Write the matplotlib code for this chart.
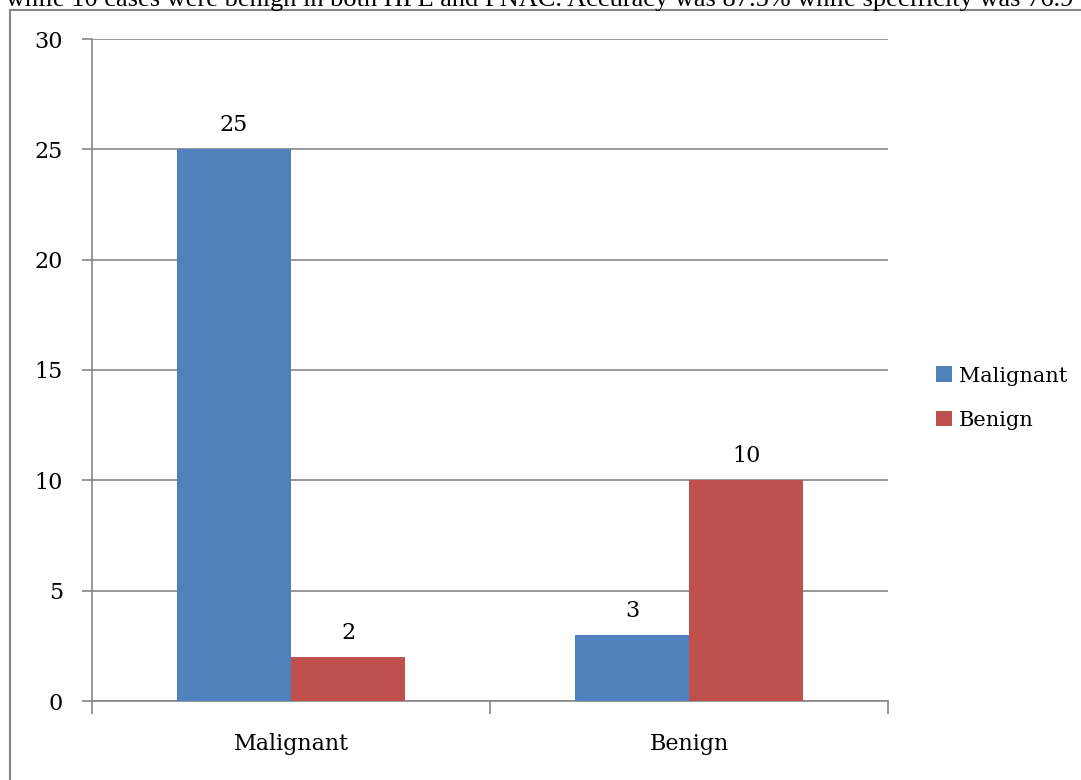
import numpy as np
import matplotlib.pyplot as plt
from matplotlib.lines import Line2D

# dados
categorias = ["Malignant", "Benign"]
serie_nomes = ["Malignant", "Benign"]
malignant = [25, 3]
benign = [2, 10]
yticks = [0, 5, 10, 15, 20, 25, 30]

AZUL = "#4F81BD"
VERMELHO = "#C0504D"
CINZA = "#868686"

plt.rcParams['font.family'] = ['DejaVu Serif']

W, H = 1081, 780
fig = plt.figure(figsize=(W/100, H/100), dpi=100)

# área do gráfico em pixels: x 92..888, y 39..701
ax = fig.add_axes([92/W, 1-701/H, (888-92)/W, (701-39)/H])

x = np.arange(len(categorias))
larg = 0.287
b1 = ax.bar(x - larg/2, malignant, larg, color=AZUL, label=serie_nomes[0], zorder=3)
b2 = ax.bar(x + larg/2, benign, larg, color=VERMELHO, label=serie_nomes[1], zorder=3)

for barras in (b1, b2):
  for r in barras:
    ax.text(r.get_x()+r.get_width()/2, r.get_height()+0.6, str(int(r.get_height())),
            ha='center', va='bottom', fontsize=16, color='black')

ax.set_xlim(-0.5, 1.5)
ax.set_ylim(0, 30)
ax.set_yticks(yticks)
ax.set_yticklabels([str(t) for t in yticks], fontsize=16)
ax.tick_params(axis='y', length=7, color=CINZA, pad=14, width=1.2)
ax.set_xticks([-0.5, 0.5, 1.5])
ax.set_xticklabels([])
ax.tick_params(axis='x', length=9, color=CINZA, width=1.2)
for i, c in enumerate(categorias):
  ax.text(i, -1.45, c, ha='center', va='top', fontsize=16)

ax.yaxis.grid(True, color=CINZA, linewidth=1.2, zorder=0)
for s in ['top', 'right']:
  ax.spines[s].set_visible(False)
for s in ['left', 'bottom']:
  ax.spines[s].set_color(CINZA)
  ax.spines[s].set_linewidth(1.2)
ax.spines['left'].set_zorder(4)

leg = fig.legend(handles=[b1, b2], labels=serie_nomes, loc='center left',
                 bbox_to_anchor=(917/W, 1-398/H), frameon=False,
                 handlelength=0.8, handleheight=0.8, handletextpad=0.3,
                 labelspacing=1.2, prop={'size': 15})

# moldura externa do gráfico
fig.add_artist(Line2D([10/W, 10/W], [0, 1-10/H], color=CINZA, linewidth=1.5))
fig.add_artist(Line2D([10/W, 1], [1-10/H, 1-10/H], color=CINZA, linewidth=1.5))

# texto do artigo cortado no topo
fig.text(6/W, 1-6/H, "while 10 cases were benign in both HPE and FNAC. Accuracy was 87.5% while specificity was 76.9",
         ha='left', va='baseline', fontsize=19, family=['Liberation Serif'])

fig.savefig("out.png", dpi=100)
